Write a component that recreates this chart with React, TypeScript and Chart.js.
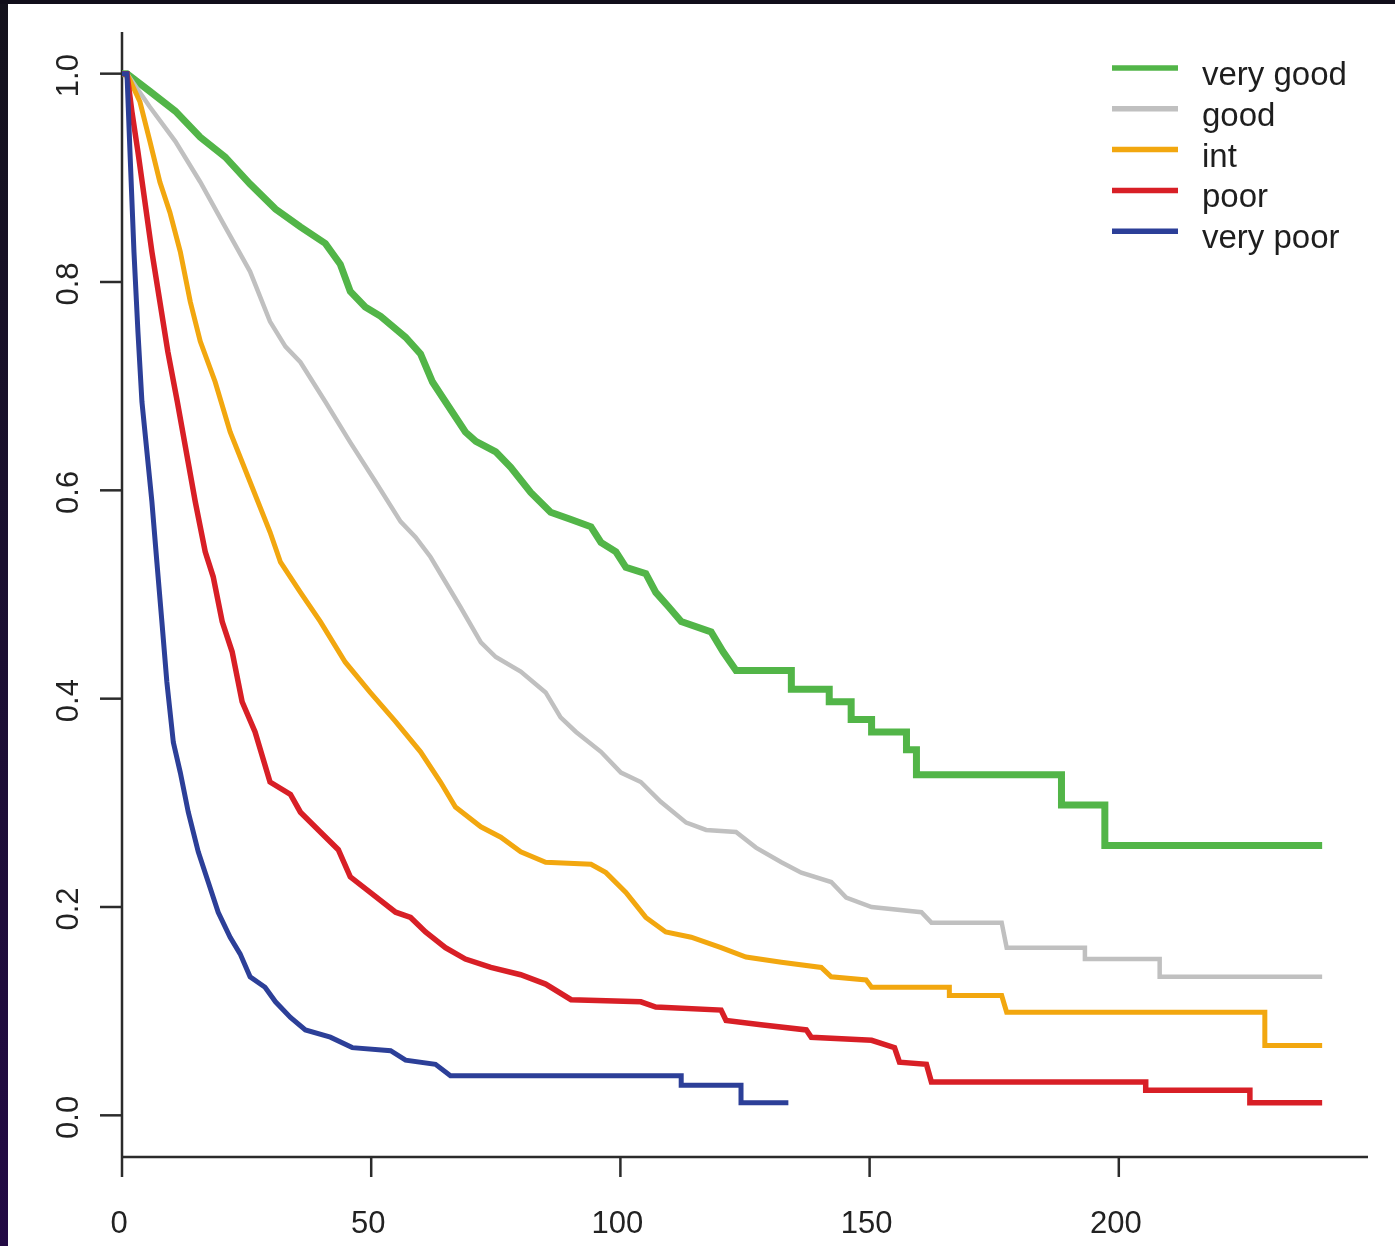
import { useEffect, useRef } from 'react';
import { Chart, registerables } from 'chart.js';

Chart.register(...registerables);

// ---- data (time, survival) ----
const xTicks = [0, 50, 100, 150, 200];
const yTicks = [0, 0.2, 0.4, 0.6, 0.8, 1.0];
const yTickLabels = ['0.0', '0.2', '0.4', '0.6', '0.8', '1.0'];
const seriesNames = ['very good', 'good', 'int', 'poor', 'very poor'];
const seriesColors = ['#52b548', '#c0c0c0', '#f2a70f', '#d81f26', '#2c3f98'];
const seriesWidths = [7, 4.5, 5, 5.5, 5];

const veryGood: [number, number][] = [
  [0, 1], [1, 1], [5.6, 0.983], [10.7, 0.964], [15.7, 0.939], [20.7, 0.92], [25.7, 0.894],
  [30.8, 0.87], [35.8, 0.853], [40.8, 0.837], [43.8, 0.817], [45.8, 0.791], [48.8, 0.776],
  [51.9, 0.767], [56.9, 0.747], [59.9, 0.731], [62.3, 0.704], [64.9, 0.685], [68.9, 0.656],
  [71.0, 0.647], [75.0, 0.637], [78.0, 0.622], [82.0, 0.598], [86.0, 0.579], [90.1, 0.572],
  [94.1, 0.565], [96.1, 0.55], [99.1, 0.541], [101.1, 0.526], [105.1, 0.52], [107.1, 0.502],
  [109.7, 0.488], [112.2, 0.474], [118.2, 0.464], [120.6, 0.445], [123.2, 0.427],
  [134.3, 0.427], [134.3, 0.409], [141.9, 0.409], [141.9, 0.397], [146.3, 0.397], [146.3, 0.38],
  [150.4, 0.38], [150.4, 0.368], [157.4, 0.368], [157.4, 0.351], [159.4, 0.351], [159.4, 0.327],
  [188.5, 0.327], [188.5, 0.298], [197.2, 0.298], [197.2, 0.259], [240.8, 0.259],
];

const good: [number, number][] = [
  [0, 1], [1, 1], [5.6, 0.968], [10.7, 0.935], [15.7, 0.896], [20.7, 0.853], [25.7, 0.81],
  [29.7, 0.762], [32.8, 0.738], [35.8, 0.723], [40.8, 0.685], [45.8, 0.646], [50.9, 0.608],
  [55.9, 0.57], [58.9, 0.555], [61.9, 0.536], [64.9, 0.512], [67.9, 0.488], [72.0, 0.454],
  [75.0, 0.44], [80.0, 0.426], [85.0, 0.406], [88.0, 0.382], [91.1, 0.368], [96.1, 0.349],
  [100.1, 0.329], [104.1, 0.32], [108.1, 0.301], [113.2, 0.281], [117.2, 0.274], [123.2, 0.272],
  [127.2, 0.257], [132.3, 0.243], [136.3, 0.233], [142.3, 0.224], [145.3, 0.209], [150.4, 0.2],
  [160.4, 0.195], [162.4, 0.185], [176.5, 0.185], [177.5, 0.161], [193.2, 0.161], [193.2, 0.15],
  [208.2, 0.15], [208.2, 0.133], [240.8, 0.133],
];

const intermediate: [number, number][] = [
  [0, 1], [1, 1], [3.6, 0.973], [5.6, 0.935], [7.6, 0.896], [9.6, 0.867], [11.7, 0.829],
  [13.7, 0.781], [15.7, 0.743], [18.7, 0.704], [21.7, 0.656], [25.7, 0.608], [29.7, 0.56],
  [31.8, 0.531], [35.8, 0.502], [39.8, 0.474], [44.8, 0.435], [49.8, 0.406], [54.9, 0.378],
  [59.9, 0.349], [63.9, 0.32], [66.9, 0.296], [72.0, 0.277], [76.0, 0.267], [80.0, 0.253],
  [85.0, 0.243], [94.1, 0.241], [97.1, 0.233], [101.1, 0.214], [105.1, 0.19], [109.1, 0.176],
  [114.2, 0.171], [120.2, 0.161], [125.2, 0.152], [132.3, 0.147], [140.3, 0.142], [142.3, 0.133],
  [149.3, 0.13], [150.4, 0.123], [166.0, 0.123], [166.0, 0.115], [176.5, 0.115], [177.5, 0.099],
  [229.3, 0.099], [229.3, 0.067], [240.8, 0.067],
];

const poor: [number, number][] = [
  [0, 1], [1, 1], [2.0, 0.963], [3.2, 0.925], [4.6, 0.877], [6.0, 0.829], [7.6, 0.781],
  [9.2, 0.733], [11.1, 0.685], [12.9, 0.637], [14.7, 0.589], [16.7, 0.541], [18.3, 0.517],
  [20.1, 0.474], [22.1, 0.445], [24.1, 0.397], [26.7, 0.368], [29.7, 0.32], [33.8, 0.308],
  [35.8, 0.291], [39.8, 0.272], [43.4, 0.255], [45.8, 0.229], [49.8, 0.214], [54.9, 0.195],
  [57.9, 0.19], [60.9, 0.176], [64.9, 0.161], [68.9, 0.15], [74.0, 0.142], [80.0, 0.135],
  [85.0, 0.126], [90.1, 0.111], [104.1, 0.109], [107.1, 0.104], [120.2, 0.101], [121.2, 0.091],
  [128.2, 0.087], [137.3, 0.082], [138.3, 0.075], [150.4, 0.072], [155.0, 0.065], [156.0, 0.051],
  [161.4, 0.049], [162.4, 0.032], [205.4, 0.032], [205.4, 0.024], [226.3, 0.024], [226.3, 0.012],
  [240.8, 0.012],
];

const veryPoor: [number, number][] = [
  [0, 1], [1, 1], [1.6, 0.925], [2.4, 0.829], [3.2, 0.752], [4.0, 0.685], [5.0, 0.637],
  [6.0, 0.589], [7.0, 0.531], [8.0, 0.474], [9.0, 0.416], [10.3, 0.358], [11.7, 0.329],
  [13.3, 0.291], [15.3, 0.253], [17.3, 0.224], [19.3, 0.195], [21.7, 0.171], [23.7, 0.155],
  [25.7, 0.133], [28.7, 0.123], [30.8, 0.109], [33.8, 0.094], [36.8, 0.082], [41.8, 0.075],
  [46.2, 0.065], [53.9, 0.062], [56.9, 0.053], [62.9, 0.049], [65.9, 0.038], [112.2, 0.038],
  [112.2, 0.029], [124.2, 0.029], [124.2, 0.012], [133.7, 0.012],
];

const allSeries = [veryGood, good, intermediate, poor, veryPoor];

const FONT = '"Liberation Sans", Arial, sans-serif';

const rAxesPlugin = {
  id: 'rAxes',
  beforeDatasetsDraw(chart: any) {
    const { ctx, scales } = chart;
    const x = scales.x;
    const y = scales.y;
    const x0 = x.getPixelForValue(0);
    const yBottom = y.bottom;
    ctx.save();
    ctx.strokeStyle = '#2b2b2b';
    ctx.lineWidth = 2.5;
    ctx.lineCap = 'butt';
    ctx.beginPath();
    ctx.moveTo(x0, y.top);
    ctx.lineTo(x0, yBottom);
    ctx.stroke();
    ctx.beginPath();
    ctx.moveTo(x0, yBottom);
    ctx.lineTo(x.right, yBottom);
    ctx.stroke();
    yTicks.forEach((v) => {
      const py = y.getPixelForValue(v);
      ctx.beginPath();
      ctx.moveTo(x0 - 22, py);
      ctx.lineTo(x0, py);
      ctx.stroke();
    });
    xTicks.forEach((v) => {
      const px = x.getPixelForValue(v);
      ctx.beginPath();
      ctx.moveTo(px, yBottom);
      ctx.lineTo(px, yBottom + 20);
      ctx.stroke();
    });
    ctx.fillStyle = '#222222';
    ctx.font = `31px ${FONT}`;
    ctx.textAlign = 'center';
    ctx.textBaseline = 'alphabetic';
    xTicks.forEach((v) => {
      const px = x.getPixelForValue(v);
      ctx.fillText(String(v), px - 3, yBottom + 76);
    });
    yTicks.forEach((v, i) => {
      const py = y.getPixelForValue(v);
      ctx.save();
      ctx.translate(x0 - 44, py + 2);
      ctx.rotate(-Math.PI / 2);
      ctx.fillText(yTickLabels[i], 0, 0);
      ctx.restore();
    });
    ctx.restore();
  },
  afterDraw(chart: any) {
    const { ctx } = chart;
    ctx.save();
    ctx.font = `33px ${FONT}`;
    ctx.textAlign = 'left';
    ctx.textBaseline = 'alphabetic';
    seriesNames.forEach((name, i) => {
      const ly = 68 + i * 40.8;
      ctx.strokeStyle = seriesColors[i];
      ctx.lineWidth = 5.5;
      ctx.beginPath();
      ctx.moveTo(1112, ly);
      ctx.lineTo(1178, ly);
      ctx.stroke();
      ctx.fillStyle = '#1e1e1e';
      ctx.fillText(name, 1202, ly + 17);
    });
    ctx.restore();
  },
};

export default function App() {
  const canvasRef = useRef<HTMLCanvasElement | null>(null);

  useEffect(() => {
    document.body.style.margin = '0';
    document.body.style.overflow = 'hidden';
    const canvas = canvasRef.current;
    if (!canvas) return;
    const order = [5, 4, 3, 2, 1];
    const chart = new Chart(canvas, {
      type: 'line',
      data: {
        datasets: allSeries.map((s, i) => ({
          label: seriesNames[i],
          data: s.map(([t, v]) => ({ x: t, y: v })),
          borderColor: seriesColors[i],
          backgroundColor: seriesColors[i],
          borderWidth: seriesWidths[i],
          pointRadius: 0,
          tension: 0,
          fill: false,
          order: order[i],
          borderJoinStyle: 'miter' as const,
        })),
      },
      options: {
        responsive: false,
        animation: false,
        devicePixelRatio: 1,
        layout: { padding: { left: 122, top: 32, right: 27, bottom: 89 } },
        scales: {
          x: { type: 'linear', min: 0, max: 250, display: false },
          y: { type: 'linear', min: -0.04, max: 1.04, display: false },
        },
        plugins: {
          legend: { display: false },
          tooltip: { enabled: false },
        },
      },
      plugins: [rAxesPlugin],
    });
    return () => chart.destroy();
  }, []);

  return (
    <div style={{ position: 'absolute', left: 0, top: 0, width: 1395, height: 1246, background: '#ffffff', overflow: 'hidden' }}>
      <canvas ref={canvasRef} width={1395} height={1246} style={{ display: 'block' }} />
      <div style={{ position: 'absolute', left: 0, top: 0, width: 8, height: 1246, background: 'linear-gradient(to bottom, #14121c 0%, #1b1030 45%, #230a45 100%)' }} />
      <div style={{ position: 'absolute', left: 0, top: 0, width: 1395, height: 4, background: '#110e1a' }} />
    </div>
  );
}
